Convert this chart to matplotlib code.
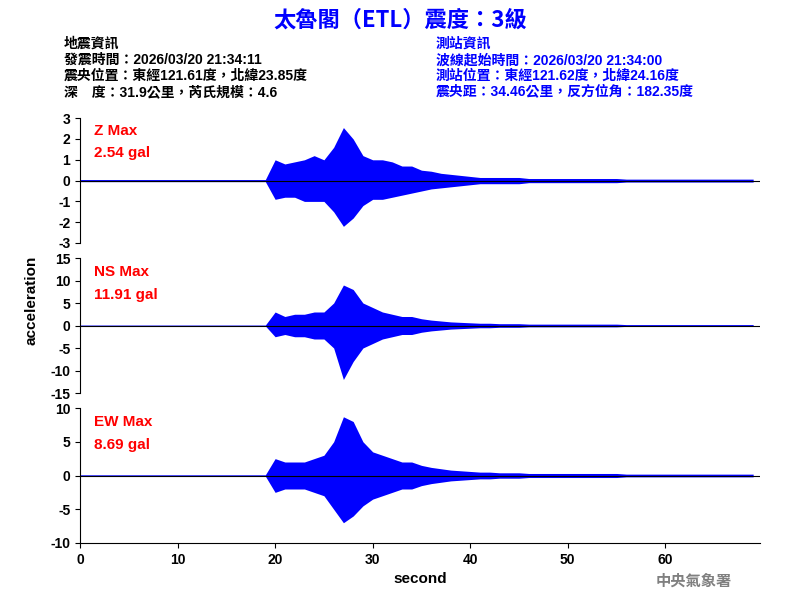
import numpy as np
import matplotlib
matplotlib.use('Agg')
import matplotlib.pyplot as plt

plt.rcParams['font.family'] = ['Liberation Sans', 'Noto Sans CJK TC']
plt.rcParams['axes.unicode_minus'] = False

# envelope read per second (t = 0..69)
seconds = np.arange(70)
z_up = [0.05]*20 + [1.0, 0.8, 0.9, 1.0, 1.2, 1.0, 1.6, 2.55, 2.0, 1.2, 1.0, 1.0, 0.9, 0.7, 0.7, 0.5,
                    0.45, 0.35, 0.3, 0.25, 0.2, 0.15, 0.15, 0.15, 0.15, 0.15] + [0.1]*10 + [0.07]*14
z_dn = [-0.05]*20 + [-0.9, -0.8, -0.8, -1.0, -1.0, -1.0, -1.5, -2.2, -1.8, -1.2, -0.9, -0.9, -0.8, -0.7, -0.6, -0.5,
                     -0.4, -0.35, -0.3, -0.25, -0.2, -0.15, -0.15, -0.15, -0.15, -0.15] + [-0.1]*10 + [-0.07]*14
ns_up = [0.1]*20 + [3, 2, 2.5, 2.5, 3, 3, 5, 9, 8, 5, 4, 3, 2.5, 2, 2, 1.5, 1.2, 1, 0.8, 0.7,
                    0.6, 0.5, 0.5, 0.4, 0.4, 0.4] + [0.3]*10 + [0.2]*14
ns_dn = [-0.1]*20 + [-2.5, -2, -2.5, -2.5, -3, -3, -5, -12, -8, -5, -4, -3, -2.5, -2, -2, -1.5, -1.2, -1, -0.8, -0.7,
                     -0.6, -0.5, -0.5, -0.4, -0.4, -0.4] + [-0.3]*10 + [-0.2]*14
ew_up = [0.1]*20 + [2.5, 2, 2, 2, 2.5, 3, 5, 8.7, 8, 5, 3.5, 3, 2.5, 2, 2, 1.5, 1.2, 1, 0.8, 0.7,
                    0.6, 0.5, 0.5, 0.4, 0.4, 0.4] + [0.3]*10 + [0.2]*14
ew_dn = [-0.1]*20 + [-2.5, -2, -2, -2, -2.5, -3, -5, -7, -6, -4.5, -3.5, -3, -2.5, -2, -2, -1.5, -1.2, -1, -0.8, -0.7,
                     -0.6, -0.5, -0.5, -0.4, -0.4, -0.4] + [-0.3]*10 + [-0.2]*14

channels = [
    ('Z Max', '2.54 gal', z_up, z_dn, (-3, 3), [-3, -2, -1, 0, 1, 2, 3]),
    ('NS Max', '11.91 gal', ns_up, ns_dn, (-15, 15), [-15, -10, -5, 0, 5, 10, 15]),
    ('EW Max', '8.69 gal', ew_up, ew_dn, (-10, 10), [-10, -5, 0, 5, 10]),
]

fig = plt.figure(figsize=(8, 6), dpi=100)
boxes = [(0.595, 0.803), (0.345, 0.570), (0.095, 0.320)]

for i, (name, peak, up, dn, ylim, ticks) in enumerate(channels):
    b0, b1 = boxes[i]
    ax = fig.add_axes([0.1, b0, 0.85, b1 - b0])
    ax.fill_between(seconds, dn, up, color='blue', lw=0)
    ax.axhline(0, color='black', lw=0.8, zorder=3)
    ax.set_xlim(0, 69.7)
    ax.set_ylim(*ylim)
    ax.set_yticks(ticks)
    for s in ['top', 'right']:
        ax.spines[s].set_visible(False)
    if i < 2:
        ax.spines['bottom'].set_visible(False)
        ax.set_xticks([])
    else:
        ax.set_xticks([0, 10, 20, 30, 40, 50, 60])
        ax.set_xlabel('second', fontsize=11, fontweight='bold')
    ax.tick_params(labelsize=10)
    for lab in ax.get_yticklabels() + ax.get_xticklabels():
        lab.set_fontweight('bold')
    ax.text(0.02, 0.95, name, transform=ax.transAxes, color='red', fontsize=11, va='top', fontweight='bold')
    ax.text(0.02, 0.78, peak, transform=ax.transAxes, color='red', fontsize=11, va='top', fontweight='bold')

fig.text(0.04, 0.5, 'acceleration', rotation=90, ha='center', va='center', fontsize=11, fontweight='bold')
fig.text(0.5, 0.967, '太魯閣（ETL）震度：3級', color='blue', ha='center', va='center',
         fontsize=16, fontweight='bold', family=['Noto Sans CJK TC'])

left_lines = ['地震資訊', '發震時間：2026/03/20 21:34:11', '震央位置：東經121.61度，北緯23.85度',
              '深　度：31.9公里，芮氏規模：4.6']
right_lines = ['測站資訊', '波線起始時間：2026/03/20 21:34:00', '測站位置：東經121.62度，北緯24.16度',
               '震央距：34.46公里，反方位角：182.35度']
for k, (l, r) in enumerate(zip(left_lines, right_lines)):
    y = 1 - (44 + 16 * k) / 600
    fig.text(0.08, y, l, fontsize=10, fontweight='bold', va='center')
    fig.text(0.545, y, r, fontsize=10, fontweight='bold', va='center', color='blue')

fig.text(0.82, 0.032, '中央氣象署', color='gray', fontsize=11, fontweight='bold', va='center',
         family=['Noto Sans CJK TC'])

fig.savefig('out.png')
